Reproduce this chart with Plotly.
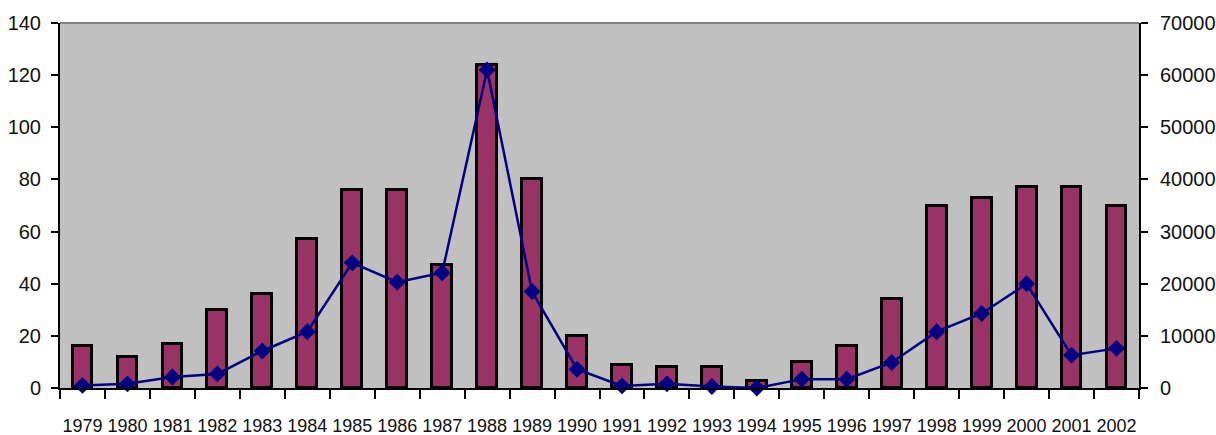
import plotly.graph_objects as go

# Yearly series: bar counts (left axis) and line totals (right axis)
years = [str(y) for y in range(1979, 2003)]
bar_values = [16, 12, 17, 30, 36, 57, 76, 76, 47, 124, 80, 20,
              9, 8, 8, 2.5, 10, 16, 34, 70, 73, 77, 77, 70]
line_values = [500, 800, 2100, 2700, 7100, 10800, 24000, 20300, 22100, 61000, 18500, 3600,
               400, 800, 300, 0, 1700, 1700, 4900, 10800, 14300, 20000, 6300, 7600]

left_ticks = [0, 20, 40, 60, 80, 100, 120, 140]
right_ticks = [0, 10000, 20000, 30000, 40000, 50000, 60000, 70000]

font_family = "Liberation Sans, Arial, sans-serif"

fig = go.Figure()

fig.add_trace(go.Bar(
    x=years, y=bar_values,
    width=0.44,
    marker=dict(color="#993366", line=dict(color="black", width=3)),
    yaxis="y",
    showlegend=False,
))

fig.add_trace(go.Scatter(
    x=years, y=line_values,
    mode="lines+markers",
    line=dict(color="#000080", width=2.5),
    marker=dict(symbol="diamond", size=13, color="#000080"),
    yaxis="y2",
    cliponaxis=False,
    showlegend=False,
))

fig.update_layout(
    width=1216, height=435,
    margin=dict(l=60, r=77, t=23, b=47, autoexpand=False),
    paper_bgcolor="white",
    plot_bgcolor="#c0c0c0",
    font=dict(family=font_family, color="#111111"),
    bargap=0,
    xaxis=dict(
        type="category",
        range=[-0.5, len(years) - 0.5],
        showgrid=False,
        showline=True, linecolor="black", linewidth=2,
        ticks="outside", tickson="boundaries", ticklen=9, tickwidth=1.5, tickcolor="black",
        tickfont=dict(size=18),
        tickangle=0,
        ticklabelstandoff=20,
    ),
    yaxis=dict(
        range=[0, 140],
        tickvals=left_ticks,
        showgrid=False, zeroline=False,
        showline=True, linecolor="black", linewidth=2,
        ticks="outside", ticklen=7, tickwidth=1.5, tickcolor="black",
        tickfont=dict(size=20),
        ticklabelstandoff=6,
    ),
    yaxis2=dict(
        range=[0, 70000],
        tickvals=right_ticks,
        ticktext=[str(v) for v in right_ticks],
        overlaying="y", side="right",
        showgrid=False, zeroline=False,
        showline=True, linecolor="black", linewidth=2,
        ticks="outside", ticklen=7, tickwidth=1.5, tickcolor="black",
        tickfont=dict(size=20),
        ticklabelstandoff=8,
    ),
    shapes=[dict(
        type="line", xref="paper", yref="paper",
        x0=0, x1=1, y0=1, y1=1,
        line=dict(color="#808080", width=2),
    )],
)

fig.write_html("out.html")
